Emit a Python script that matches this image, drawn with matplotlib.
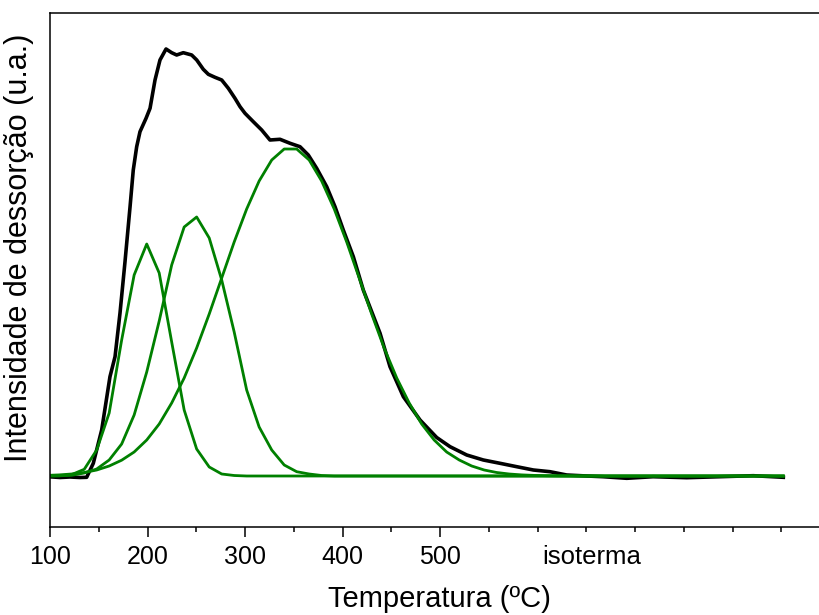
import matplotlib
matplotlib.use('Agg')
import matplotlib.pyplot as plt

# TPD signal (black)
temp = [98.3, 110.3, 120.5, 130.8, 137.6, 144.4, 153.0, 161.5, 166.7, 171.8,
        176.9, 182.1, 185.4, 188.9, 192.3, 198.5, 202.6, 207.7, 212.8, 219.0,
        224.8, 229.9, 236.7, 245.3, 250.5, 257.2, 262.4, 269.2, 276.1, 282.9,
        289.7, 294.9, 300.0, 308.5, 317.1, 325.6, 335.9, 346.2, 356.4, 364.9,
        373.5, 383.8, 392.3, 400.8, 411.1, 421.3, 438.5, 448.7, 462.4, 479.5,
        496.6, 510.3, 527.4, 544.4, 561.5, 578.7, 595.7, 612.8, 629.9, 650.5,
        667.2, 691.5, 718.5, 753.0, 787.2, 821.3, 852.1]
signal = [-0.7, -1.5, -1.0, -1.5, -1.3, 12.7, 46, 99.3, 119.3, 163,
          214, 269.3, 306, 329.3, 344.3, 357.7, 367.7, 396, 416, 427,
          423.3, 421, 423.3, 421, 416, 406.7, 401.7, 398.7, 396, 387.7,
          377.7, 369.3, 362.7, 354.3, 346, 336, 336.7, 332.7, 329.3, 321,
          307.7, 289.3, 269.3, 246, 219.3, 186, 142.7, 109.3, 79.3, 56,
          38.5, 29.3, 21, 16, 12.7, 9.3, 6, 4.3, 1, 0,
          -0.7, -2.3, -0.7, -1.7, -0.7, 0.3, -1.3]

# fitted components (green)
fit_x = [96.6, 109.4, 122.2, 135.1, 147.9, 160.7, 173.5, 186.3, 199.2, 212.0,
         224.8, 237.6, 250.4, 263.3, 276.1, 288.9, 301.7, 314.5, 327.4, 340.2,
         353.0, 365.8, 378.6, 391.5, 404.3, 417.1, 429.9, 442.7, 455.6, 468.4,
         481.2, 494.0, 506.8, 519.7, 532.5, 545.3, 558.1, 570.9, 583.8, 596.6,
         609.4, 622.2, 635.0, 852.0]
peak1 = [0, 0.2, 1.4, 6.7, 26, 63, 136, 201, 232, 203,
         134, 66, 27, 9, 2, 0.5, 0, 0, 0, 0,
         0, 0, 0, 0, 0, 0, 0, 0, 0, 0,
         0, 0, 0, 0, 0, 0, 0, 0, 0, 0,
         0, 0, 0, 0]
peak2 = [0, 0.2, 0.7, 3, 7, 16, 32, 61, 104, 155,
         211, 249, 259, 238, 196, 144, 86, 49, 26, 11,
         4.3, 2, 0.5, 0, 0, 0, 0, 0, 0, 0,
         0, 0, 0, 0, 0, 0, 0, 0, 0, 0,
         0, 0, 0, 0]
peak3 = [0.6, 1.1, 2.0, 3.5, 6, 10, 15.8, 24, 36, 52,
         73, 98, 128, 162, 198, 234, 267, 295, 316, 327,
         327, 316, 295, 267, 234, 198, 162, 128, 98, 73,
         52, 36, 24, 16, 10, 6, 3.5, 2, 1.1, 0.6,
         0.3, 0.1, 0, 0]

major_ticks = [100, 200, 300, 400, 500]
major_labels = ['100', '200', '300', '400', '500']
minor_ticks = [150, 250, 350, 450, 550, 600, 650, 700, 750, 800, 850]
iso_label = 'isoterma'
iso_pos = 656


def main():
    plt.rcParams['font.family'] = ['Liberation Sans', 'DejaVu Sans']
    fig = plt.figure(figsize=(8.2, 6.15), dpi=100)
    ax = fig.add_axes([50 / 820, 88.3 / 615, 770 / 820, 513.7 / 615])

    ax.plot(temp, signal, color='black', lw=2.6, solid_joinstyle='round')
    for comp in (peak1, peak2, peak3):
        ax.plot(fit_x, comp, color='#008000', lw=2.0)

    ax.set_xlim(100, 889.7)
    ax.set_ylim(-50.7, 463)

    ax.spines['right'].set_visible(False)
    for s in ('left', 'top', 'bottom'):
        ax.spines[s].set_linewidth(1.1)

    ax.set_xticks(major_ticks)
    ax.set_xticklabels(major_labels)
    ax.set_xticks(minor_ticks, minor=True)
    ax.set_yticks([])
    ax.tick_params(axis='x', which='major', direction='out', length=7.5,
                   width=1.1, pad=6, labelsize=18)
    ax.tick_params(axis='x', which='minor', direction='out', length=3.8,
                   width=1.1)

    ax.annotate(iso_label, xy=(iso_pos, 0), xycoords=('data', 'axes fraction'),
                xytext=(0, -13.5), textcoords='offset points',
                ha='center', va='top', fontsize=18.5)

    ax.set_xlabel('Temperatura (ºC)', fontsize=21)
    ax.xaxis.set_label_coords(0.506, -0.113)
    ax.set_ylabel('Intensidade de dessorção (u.a.)', fontsize=22)
    ax.yaxis.set_label_coords(-0.021, 0.5425)

    fig.savefig('out.png', dpi=100)


if __name__ == '__main__':
    main()
